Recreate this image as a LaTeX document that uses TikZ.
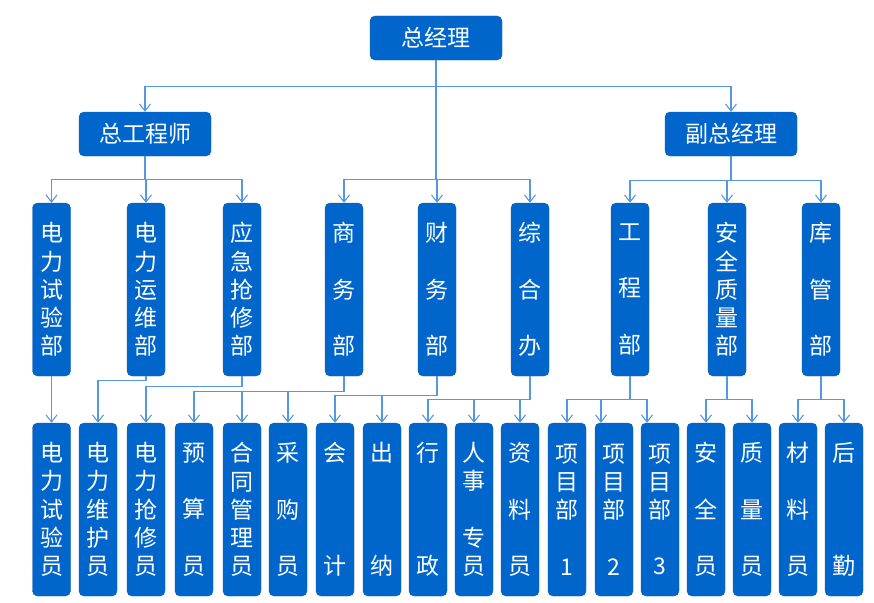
\documentclass[tikz,border=0pt]{standalone}
\usepackage{fontspec}
\setmainfont{Noto Sans CJK SC}
\definecolor{boxblue}{RGB}{0,102,204}
\definecolor{edgeblue}{RGB}{22,88,168}
\definecolor{linkblue}{RGB}{84,152,226}
\usetikzlibrary{arrows.meta,positioning}
\newcommand{\vtext}[5]{\mbox{#1}\\\mbox{#2}\\\mbox{#3}\\\mbox{#4}\\\mbox{#5}}
\tikzset{
  head/.style={draw=edgeblue,fill=boxblue,rounded corners=5pt,text=white,
               minimum width=132pt,minimum height=44pt,inner sep=0pt,
               font=\fontsize{23}{26}\selectfont},
  dept/.style={head,minimum width=38pt,minimum height=173pt,align=center,
               font=\fontsize{23}{28.2}\selectfont},
  post/.style={dept},
  arr/.style={-{Straight Barb[length=7pt,width=11pt]},line width=1.1pt,draw=linkblue},
}

\begin{document}
\begin{tikzpicture}[x=1pt,y=-1pt]
    \useasboundingbox (0,0) rectangle (874,602);
    % management
    \node[head] (gm) at (436,38) {总经理};
    \node[head] (chief) at (145,134) {总工程师};
    \node[head] (deputy) at (731,134) {副总经理};
    % departments
    \node[dept] (test) at (51.5,289.5) {\vtext{电}{力}{试}{验}{部}};
    \node[dept] (maint) at (146,289.5) {\vtext{电}{力}{运}{维}{部}};
    \node[dept] (repair) at (242,289.5) {\vtext{应}{急}{抢}{修}{部}};
    \node[dept] (commerce) at (344,289.5) {\vtext{商}{}{务}{}{部}};
    \node[dept] (finance) at (437,289.5) {\vtext{财}{}{务}{}{部}};
    \node[dept] (admin) at (530,289.5) {\vtext{综}{}{合}{}{办}};
    \node[dept] (works) at (630,289.5) {\vtext{工}{}{程}{}{部}};
    \node[dept] (safety) at (727,289.5) {\vtext{安}{全}{质}{量}{部}};
    \node[dept] (store) at (821,289.5) {\vtext{库}{}{管}{}{部}};
    % staff
    \node[post] (tester) at (51.5,509.5) {\vtext{电}{力}{试}{验}{员}};
    \node[post] (keeper) at (98,509.5) {\vtext{电}{力}{维}{护}{员}};
    \node[post] (fixer) at (146,509.5) {\vtext{电}{力}{抢}{修}{员}};
    \node[post] (budget) at (194,509.5) {\vtext{预}{}{算}{}{员}};
    \node[post] (contract) at (242,509.5) {\vtext{合}{同}{管}{理}{员}};
    \node[post] (purchase) at (288,509.5) {\vtext{采}{}{购}{}{员}};
    \node[post] (account) at (335,509.5) {\vtext{会}{}{}{}{计}};
    \node[post] (cashier) at (382,509.5) {\vtext{出}{}{}{}{纳}};
    \node[post] (office) at (428,509.5) {\vtext{行}{}{}{}{政}};
    \node[post] (hr) at (474,509.5) {\vtext{人}{事}{}{专}{员}};
    \node[post] (archive) at (520,509.5) {\vtext{资}{}{料}{}{员}};
    \node[post] (proja) at (567,509.5) {\vtext{项}{目}{部}{}{1}};
    \node[post] (projb) at (614,509.5) {\vtext{项}{目}{部}{}{2}};
    \node[post] (projc) at (660,509.5) {\vtext{项}{目}{部}{}{3}};
    \node[post] (safeman) at (706,509.5) {\vtext{安}{}{全}{}{员}};
    \node[post] (qcman) at (752,509.5) {\vtext{质}{}{量}{}{员}};
    \node[post] (material) at (798,509.5) {\vtext{材}{}{料}{}{员}};
    \node[post] (logistics) at (844,509.5) {\vtext{后}{}{}{}{勤}};
    % top level links
    \draw[arr] (gm.south) -- ++(0,26) -| (chief.north);
    \draw[arr] (gm.south) -- ++(0,26) -| (deputy.north);
    \draw[arr] (gm.south) -- ++(0,119) -| (commerce.north);
    \draw[arr] (gm.south) -- ++(0,119) -| (finance.north);
    \draw[arr] (gm.south) -- ++(0,119) -| (admin.north);
    \draw[arr] (chief.south) -- ++(0,23) -| (test.north);
    \draw[arr] (chief.south) -- ++(0,23) -| (maint.north);
    \draw[arr] (chief.south) -- ++(0,23) -| (repair.north);
    \draw[arr] (deputy.south) -- ++(0,24) -| (works.north);
    \draw[arr] (deputy.south) -- ++(0,24) -| (safety.north);
    \draw[arr] (deputy.south) -- ++(0,24) -| (store.north);
    % department links
    \draw[arr] (test) -- (tester);
    \draw[arr] (maint.south) -- ++(0,4) -| (keeper.north);
    \draw[arr] (repair.south) -- ++(0,10) -| (fixer.north);
    \draw[arr] (commerce.south) -- ++(0,15) -| (budget.north);
    \draw[arr] (commerce.south) -- ++(0,15) -| (contract.north);
    \draw[arr] (commerce.south) -- ++(0,15) -| (purchase.north);
    \draw[arr] (finance.south) -- ++(0,19) -| (account.north);
    \draw[arr] (finance.south) -- ++(0,19) -| (cashier.north);
    \draw[arr] (admin.south) -- ++(0,23) -| (office.north);
    \draw[arr] (admin.south) -- ++(0,23) -| (hr.north);
    \draw[arr] (admin.south) -- ++(0,23) -| (archive.north);
    \draw[arr] (works.south) -- ++(0,23) -| (proja.north);
    \draw[arr] (works.south) -- ++(0,23) -| ([xshift=-13pt]projb.north);
    \draw[arr] (works.south) -- ++(0,23) -| ([xshift=-13pt]projc.north);
    \draw[arr] (safety.south) -- ++(0,23) -| (safeman.north);
    \draw[arr] (safety.south) -- ++(0,23) -| (qcman.north);
    \draw[arr] (store.south) -- ++(0,23) -| (material.north);
    \draw[arr] (store.south) -- ++(0,23) -| (logistics.north);
\end{tikzpicture}
\end{document}
